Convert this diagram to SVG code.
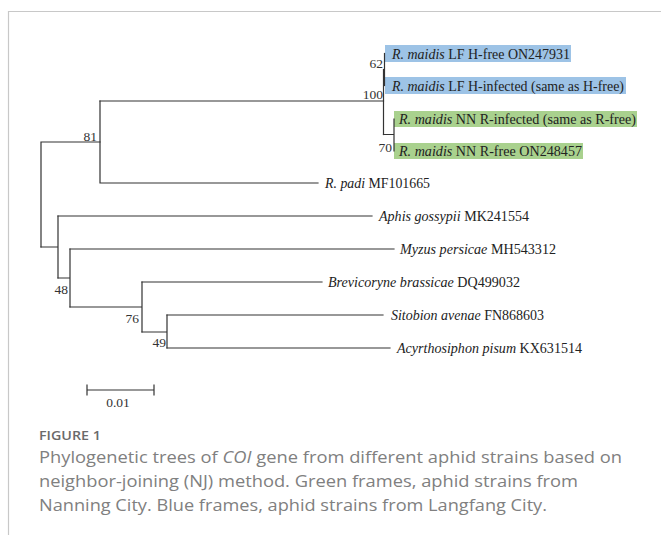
<svg xmlns="http://www.w3.org/2000/svg" width="661" height="535" viewBox="0 0 661 535">
<style>
.br{stroke:#333;stroke-width:1.2;fill:none;stroke-linecap:square}
.lf{font-family:"Liberation Serif","Times New Roman",serif;font-size:13.8px;fill:#222}
.bs{font-family:"Liberation Serif","Times New Roman",serif;font-size:13.5px;fill:#333}
.cap{font-family:"Open Sans","Noto Sans",sans-serif;font-size:17px;fill:#808080}
.fig{font-family:"Open Sans","Noto Sans",sans-serif;font-size:13px;font-weight:600;fill:#6a6a6a}
.blue{fill:#9DC3E6}
.green{fill:#A9D18E}
</style>
<rect x="0" y="0" width="661" height="535" fill="#fff"/>
<path d="M8.5 535 V11.5 H661" stroke="#c8c8c8" stroke-width="1.2" fill="none"/>

<g id="highlights">
<rect class="blue" x="385" y="45" width="186" height="17"/>
<rect class="blue" x="385" y="77" width="241" height="17"/>
<rect class="green" x="394" y="111" width="243" height="16"/>
<rect class="green" x="394" y="143" width="189" height="16"/>
</g>

<g id="connectors" class="br">
<path d="M384.5 53.5 V85.5"/>
<path d="M383.5 69.5 V134.5"/>
<path d="M100 101 H383.5"/>
<path d="M383.5 134.5 H394 M394 119 V151"/>
<path d="M100 101 V183 M100 183 H318"/>
<path d="M41 142 V247 M41 142 H100"/>
<path d="M41 247 H58 M58 216 V278"/>
<path d="M58 216 H372"/>
<path d="M58 278 H70 M70 249 V307"/>
<path d="M70 249 H394"/>
<path d="M70 307 H142 M142 282 V332"/>
<path d="M142 282 H322"/>
<path d="M142 332 H167 M167 315 V348"/>
<path d="M167 315 H383"/>
<path d="M167 348 H390"/>
</g>

<g id="leaf-rmaidis-lf-hfree"><text class="lf" x="392" y="58.5" textLength="178" lengthAdjust="spacingAndGlyphs"><tspan font-style="italic">R. maidis</tspan> LF H-free ON247931</text></g>
<g id="leaf-rmaidis-lf-hinfected"><text class="lf" x="392" y="90.5" textLength="232" lengthAdjust="spacingAndGlyphs"><tspan font-style="italic">R. maidis</tspan> LF H-infected (same as H-free)</text></g>
<g id="leaf-rmaidis-nn-rinfected"><text class="lf" x="399" y="123.5" textLength="237" lengthAdjust="spacingAndGlyphs"><tspan font-style="italic">R. maidis</tspan> NN R-infected (same as R-free)</text></g>
<g id="leaf-rmaidis-nn-rfree"><text class="lf" x="399" y="155.5" textLength="183" lengthAdjust="spacingAndGlyphs"><tspan font-style="italic">R. maidis</tspan> NN R-free ON248457</text></g>
<g id="leaf-rpadi"><text class="lf" x="325" y="188" textLength="105" lengthAdjust="spacingAndGlyphs"><tspan font-style="italic">R. padi</tspan> MF101665</text></g>
<g id="leaf-aphis"><text class="lf" x="379" y="221" textLength="150" lengthAdjust="spacingAndGlyphs"><tspan font-style="italic">Aphis gossypii</tspan> MK241554</text></g>
<g id="leaf-myzus"><text class="lf" x="400" y="254" textLength="156" lengthAdjust="spacingAndGlyphs"><tspan font-style="italic">Myzus persicae</tspan> MH543312</text></g>
<g id="leaf-brevicoryne"><text class="lf" x="328" y="287" textLength="192" lengthAdjust="spacingAndGlyphs"><tspan font-style="italic">Brevicoryne brassicae</tspan> DQ499032</text></g>
<g id="leaf-sitobion"><text class="lf" x="391" y="320" textLength="153" lengthAdjust="spacingAndGlyphs"><tspan font-style="italic">Sitobion avenae</tspan> FN868603</text></g>
<g id="leaf-acyrthosiphon"><text class="lf" x="397" y="353" textLength="185" lengthAdjust="spacingAndGlyphs"><tspan font-style="italic">Acyrthosiphon pisum</tspan> KX631514</text></g>

<g id="bootstrap" class="bs" text-anchor="end">
<text x="383" y="68">62</text>
<text x="383" y="99">100</text>
<text x="392" y="152">70</text>
<text x="97" y="141">81</text>
<text x="68" y="294">48</text>
<text x="139" y="323">76</text>
<text x="166" y="347">49</text>
</g>

<g id="scale-bar">
<path class="br" d="M87 390 H154 M87 385 V395 M154 385 V395"/>
<text class="bs" x="118" y="407" text-anchor="middle">0.01</text>
</g>

<g id="caption">
<text class="fig" x="39" y="440" textLength="62" lengthAdjust="spacingAndGlyphs">FIGURE 1</text>
<text class="cap" x="39" y="463" textLength="583" lengthAdjust="spacingAndGlyphs">Phylogenetic trees of <tspan font-style="italic">COI</tspan> gene from different aphid strains based on</text>
<text class="cap" x="39" y="487" textLength="539" lengthAdjust="spacingAndGlyphs">neighbor-joining (NJ) method. Green frames, aphid strains from</text>
<text class="cap" x="39" y="511" textLength="508" lengthAdjust="spacingAndGlyphs">Nanning City. Blue frames, aphid strains from Langfang City.</text>
</g>
</svg>
